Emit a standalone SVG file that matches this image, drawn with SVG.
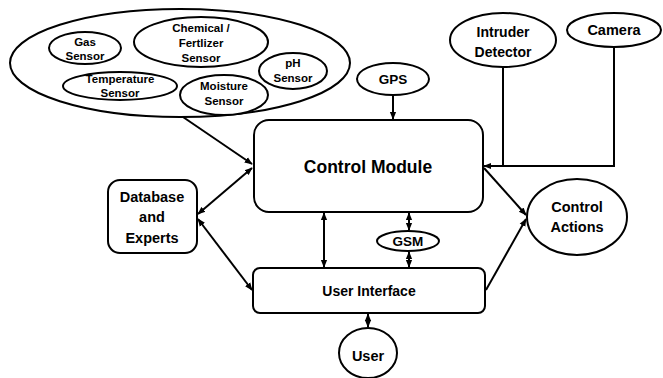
<svg xmlns="http://www.w3.org/2000/svg" width="663" height="378" viewBox="0 0 663 378">
<style>
.s{fill:#fff;stroke:#000;stroke-width:2}
.t{font-family:"Liberation Sans",Arial,sans-serif;font-weight:bold;fill:#000;text-anchor:middle}
.c{stroke:#000;stroke-width:2;fill:none}
</style>
<defs>
<marker id="a" viewBox="0 0 10 10" refX="9" refY="5" markerWidth="4" markerHeight="4" orient="auto-start-reverse" markerUnits="strokeWidth">
<path d="M0,1 L10,5 L0,9 Z" fill="#000"/>
</marker>
</defs>
<rect width="663" height="378" fill="#fff"/>
<g id="sensors">
<ellipse class="s" cx="180" cy="63" rx="170" ry="54"/>
</g>
<g id="gas"><ellipse class="s" cx="85" cy="48" rx="36" ry="16"/>
<text class="t" font-size="11.5"><tspan x="85" y="46">Gas</tspan><tspan x="85" y="60">Sensor</tspan></text></g>
<g id="chemical"><ellipse class="s" cx="201" cy="42" rx="67" ry="25"/>
<text class="t" font-size="11.5"><tspan x="201" y="32">Chemical /</tspan><tspan x="201" y="47">Fertlizer</tspan><tspan x="201" y="62">Sensor</tspan></text></g>
<g id="ph"><ellipse class="s" cx="293" cy="71" rx="34" ry="18"/>
<text class="t" font-size="11.5"><tspan x="293" y="67">pH</tspan><tspan x="293" y="82">Sensor</tspan></text></g>
<g id="temperature"><ellipse class="s" cx="120" cy="86" rx="57" ry="14"/>
<text class="t" font-size="11.5"><tspan x="120" y="83">Temperature</tspan><tspan x="120" y="97">Sensor</tspan></text></g>
<g id="moisture"><ellipse class="s" cx="224" cy="95" rx="44" ry="20"/>
<text class="t" font-size="11.5"><tspan x="224" y="90">Moisture</tspan><tspan x="224" y="105">Sensor</tspan></text></g>
<g id="gps"><ellipse class="s" cx="393" cy="79" rx="36" ry="16"/>
<text class="t" font-size="13.5" x="393" y="84">GPS</text></g>
<g id="intruder"><ellipse class="s" cx="503" cy="40" rx="53" ry="27"/>
<text class="t" font-size="14"><tspan x="503" y="37">Intruder</tspan><tspan x="503" y="57">Detector</tspan></text></g>
<g id="camera"><ellipse class="s" cx="614" cy="30" rx="47" ry="17"/>
<text class="t" font-size="14.5" x="614" y="35">Camera</text></g>
<g id="control-module"><rect class="s" x="254" y="120" width="229" height="92" rx="15"/>
<text class="t" font-size="17.5" x="368" y="173">Control Module</text></g>
<g id="database"><rect class="s" x="108" y="180" width="89" height="73" rx="12"/>
<text class="t" font-size="14.5"><tspan x="152" y="202">Database</tspan><tspan x="152" y="222">and</tspan><tspan x="152" y="243">Experts</tspan></text></g>
<g id="control-actions"><ellipse class="s" cx="577" cy="217" rx="50" ry="38"/>
<text class="t" font-size="14.5"><tspan x="577" y="212">Control</tspan><tspan x="577" y="232">Actions</tspan></text></g>
<g id="gsm"><ellipse class="s" cx="408" cy="241" rx="31" ry="10"/>
<text class="t" font-size="13.5" x="408" y="246">GSM</text></g>
<g id="user-interface"><rect class="s" x="253" y="268" width="232" height="45" rx="7"/>
<text class="t" font-size="14" x="369" y="296">User Interface</text></g>
<g id="user"><ellipse class="s" cx="368" cy="353" rx="29" ry="25"/>
<text class="t" font-size="14.5" x="368" y="361">User</text></g>
<g id="connectors">
<path class="c" d="M183,117 L252,164" marker-end="url(#a)"/>
<path class="c" d="M393,95 L393,119" marker-end="url(#a)"/>
<path class="c" d="M503,67 L503,166"/>
<path class="c" d="M614,47 L614,166 L484,166" marker-end="url(#a)"/>
<path class="c" d="M252,168 L198,214" marker-start="url(#a)" marker-end="url(#a)"/>
<path class="c" d="M198,219 L252,290" marker-start="url(#a)" marker-end="url(#a)"/>
<path class="c" d="M484,168 L526,215" marker-end="url(#a)"/>
<path class="c" d="M486,290 L526,219" marker-end="url(#a)"/>
<path class="c" d="M324,213 L324,267" marker-start="url(#a)" marker-end="url(#a)"/>
<path class="c" d="M409,213 L409,230" marker-start="url(#a)" marker-end="url(#a)"/>
<path class="c" d="M409,252 L409,267" marker-start="url(#a)" marker-end="url(#a)"/>
<path class="c" d="M368,314 L368,327" marker-start="url(#a)" marker-end="url(#a)"/>
</g>
</svg>
